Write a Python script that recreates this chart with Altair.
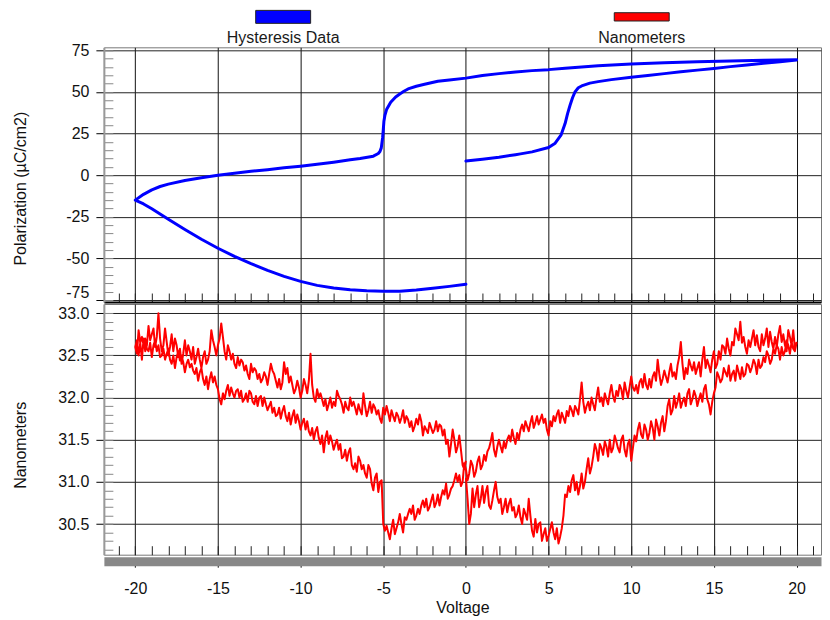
import altair as alt
import numpy as np
import pandas as pd

FONT = "Liberation Sans"

# ---------------- Polarization (Hysteresis Data) ----------------
# branch A: 0 -> +20 V
pa_v = [0, 1, 2, 3, 3.3, 4, 5, 5.4, 5.75, 6.0, 6.15, 6.3, 6.45, 6.6, 6.8, 7.0, 7.5,
        8.0, 8.8, 10, 11, 12, 13, 14, 15, 16, 17, 18, 19, 20]
pa_p = [8.5, 9.6, 10.8, 12.3, 12.8, 14.0, 16.6, 19.2, 24.0, 31.0, 37.0, 42.0, 46.5, 50.0,
        52.5, 53.6, 55.3, 56.2, 57.4, 58.8, 59.9, 61.0, 62.1, 63.1, 64.1, 65.2, 66.2, 67.2, 68.2, 69.2]
# branch B: +20 -> -20 V
pb_v = [20, 18, 16, 14, 12, 10, 8, 6, 5, 4, 3, 2, 1, 0, -1, -1.7, -2.5, -3.0, -3.5, -3.75,
        -4.0, -4.25, -4.55, -4.8, -4.9, -4.96, -5.0, -5.04, -5.12, -5.2, -5.3, -5.6, -6.4, -7,
        -8, -9, -10, -11, -12, -13, -14, -15, -16, -17, -18, -18.5, -19, -19.5, -20]
pb_p = [69.3, 69.0, 68.6, 68.1, 67.5, 66.8, 65.8, 64.3, 63.4, 62.8, 62.0, 61.0, 59.9, 58.3,
        57.2, 56.4, 54.6, 53.4, 51.8, 50.4, 48.8, 47.0, 43.8, 39.4, 36.0, 32.4, 27.0, 22.4,
        16.4, 14.2, 13.0, 11.4, 10.0, 9.2, 7.8, 6.5, 5.4, 4.4, 3.3, 2.3, 1.2, 0.0, -1.5, -3.2,
        -5.4, -6.8, -8.8, -11.5, -15.0]
# branch C: -20 -> 0 V
pc_v = [-20, -19.5, -19, -18, -17, -16, -15, -14, -13, -12, -11, -10, -9, -8, -7, -6, -5,
        -4, -3, -2, -1, 0]
pc_p = [-15.0, -17.3, -20.2, -26.5, -32.6, -38.5, -43.9, -48.8, -53.2, -57.2, -60.8, -63.8,
        -66.2, -67.8, -68.9, -69.5, -69.8, -69.7, -69.0, -68.0, -66.8, -65.5]

# ---------------- Nanometers ----------------
# readings at even 0.2 V steps, plus the readings in between (odd 0.1 V steps)
# branch A: 0 -> +20 V
na = [31.05, 30.50, 30.92, 30.85, 30.70, 30.95, 30.88, 30.72, 30.78, 31.00,
      30.75, 30.62, 30.80, 30.74, 30.66, 30.58, 30.72, 30.50, 30.62, 30.80,
      30.42, 30.56, 30.50, 30.30, 30.45, 30.36, 30.52, 30.32, 30.27, 30.45,
      30.85, 30.95, 31.02, 30.90, 30.85, 31.10, 31.00, 31.28, 31.18, 31.45,
      31.25, 31.40, 31.48, 31.30, 31.35, 31.55, 31.40, 31.50, 31.38, 31.45,
      31.25, 31.55, 31.62, 31.56, 31.68, 31.50, 31.72, 31.50, 31.66, 31.70,
      31.60, 31.90, 31.80, 32.02, 31.95, 31.88, 32.00, 32.05, 31.92, 32.08,
      31.90, 32.05, 32.10, 31.98, 31.80, 32.05, 32.30, 32.18, 32.35, 32.25,
      32.20, 32.32, 32.38, 32.22, 32.25, 32.40, 32.30, 32.45, 32.28, 32.35,
      32.48, 32.55, 32.40, 32.58, 32.62, 32.45, 32.50, 32.68, 32.52, 32.58,
      32.65]
na_mid = [30.80, 30.62, 30.70, 30.95, 30.80, 30.75, 30.95, 30.68, 30.90, 30.82,
          30.80, 30.70, 30.64, 30.80, 30.70, 30.62, 30.58, 30.68, 30.55, 30.60,
          30.35, 30.40, 30.52, 30.38, 30.30, 30.44, 30.40, 30.45, 30.35, 30.60,
          30.82, 30.88, 31.08, 31.00, 30.95, 30.92, 31.15, 31.10, 31.30, 31.38,
          31.45, 31.32, 31.42, 31.50, 31.40, 31.48, 31.35, 31.55, 31.30, 31.50,
          31.40, 31.48, 31.70, 31.52, 31.62, 31.58, 31.64, 31.74, 31.55, 31.78,
          31.72, 31.98, 31.85, 31.88, 32.05, 31.95, 31.90, 32.10, 31.98, 32.02,
          31.98, 31.95, 32.15, 31.92, 31.95, 32.12, 32.25, 32.22, 32.30, 32.38,
          32.28, 32.20, 32.30, 32.36, 32.28, 32.38, 32.36, 32.40, 32.45, 32.38,
          32.42, 32.50, 32.45, 32.52, 32.58, 32.60, 32.55, 32.62, 32.66, 32.55]
# branch B: +20 -> -20 V
nb = [32.65, 32.80, 32.72, 32.55, 32.75, 32.85, 32.60, 32.58, 32.78, 32.82,
      32.62, 32.55, 32.74, 32.80, 32.60, 32.52, 32.72, 32.90, 32.75, 32.62,
      32.50, 32.70, 32.60, 32.45, 32.40, 32.55, 32.30, 32.45, 32.60, 32.25,
      32.35, 32.42, 32.38, 32.28, 32.22, 32.66, 32.38, 32.30, 32.40, 32.18,
      32.32, 32.15, 32.45, 32.30, 32.12, 32.10, 32.28, 32.22, 32.05, 32.08,
      32.25, 32.00, 32.18, 32.10, 32.02, 31.95, 32.15, 31.92, 32.05, 32.00,
      32.12, 31.85, 32.00, 31.95, 31.82, 32.18, 31.80, 31.90, 31.85, 31.78,
      31.70, 31.82, 31.85, 31.72, 31.66, 31.55, 31.75, 31.80, 31.68, 31.70,
      31.78, 31.60, 31.72, 31.68, 31.50, 31.45, 31.62, 31.55, 31.40, 31.35,
      31.50, 31.30, 31.58, 31.40, 31.25, 31.20, 31.30, 31.12, 31.20, 31.10,
      31.15, 31.00, 31.08, 31.10, 30.95, 30.85, 30.98, 30.90, 30.72, 30.75,
      30.85, 30.70, 30.80, 30.78, 30.62, 30.60, 30.72, 30.68, 30.55, 30.40,
      30.62, 30.45, 30.55, 30.32, 30.48, 30.50, 31.00, 31.10, 30.90, 31.15,
      31.05, 31.20, 31.25, 31.12, 31.15, 31.40, 31.25, 31.30, 31.45, 31.50,
      31.38, 31.55, 31.60, 31.35, 31.45, 31.65, 31.50, 31.55, 31.72, 31.75,
      31.62, 31.80, 31.85, 31.68, 31.72, 31.90, 31.75, 31.80, 31.88, 31.95,
      31.85, 32.00, 32.02, 31.90, 31.92, 32.05, 31.95, 31.98, 32.08, 32.10,
      32.00, 32.12, 32.15, 31.98, 31.92, 32.10, 32.25, 32.30, 32.10, 32.15,
      32.35, 32.20, 32.28, 32.40, 32.45, 32.30, 32.50, 32.55, 32.35, 32.40,
      32.58, 32.45, 32.50, 32.62, 32.68, 32.48, 32.55, 32.70, 32.72, 32.50,
      32.60]
nb_mid = [32.58, 32.62, 32.80, 32.62, 32.66, 32.75, 32.72, 32.66, 32.60, 32.70,
          32.75, 32.60, 32.62, 32.70, 32.68, 32.60, 32.65, 32.68, 32.82, 32.66,
          32.58, 32.52, 32.62, 32.55, 32.35, 32.45, 32.38, 32.35, 32.45, 32.42,
          32.28, 32.32, 32.45, 32.35, 32.40, 32.48, 32.22, 32.25, 32.30, 32.25,
          32.22, 32.28, 32.20, 32.25, 32.22, 32.15, 32.12, 32.18, 32.15, 32.12,
          32.12, 32.08, 31.98, 32.15, 32.08, 32.02, 32.05, 31.98, 31.90, 31.95,
          32.00, 31.92, 31.85, 31.90, 31.95, 31.98, 31.86, 31.78, 31.90, 31.84,
          31.76, 31.70, 31.80, 31.78, 31.72, 31.62, 31.70, 31.74, 31.78, 31.64,
          31.70, 31.66, 31.60, 31.62, 31.58, 31.52, 31.48, 31.50, 31.48, 31.42,
          31.42, 31.38, 31.48, 31.36, 31.32, 31.15, 31.24, 31.06, 31.25, 31.02,
          31.22, 30.95, 31.00, 31.02, 30.92, 30.80, 30.85, 30.82, 30.85, 30.70,
          30.78, 30.66, 30.70, 30.72, 30.68, 30.55, 30.62, 30.62, 30.58, 30.50,
          30.52, 30.38, 30.45, 30.40, 30.42, 31.02, 30.88, 31.05, 30.98, 31.20,
          31.10, 31.15, 31.30, 31.22, 31.20, 31.35, 31.38, 31.28, 31.38, 31.45,
          31.48, 31.45, 31.52, 31.55, 31.52, 31.60, 31.64, 31.60, 31.62, 31.70,
          31.72, 31.70, 31.78, 31.82, 31.78, 31.84, 31.88, 31.78, 31.82, 31.90,
          31.92, 31.90, 32.00, 32.02, 31.95, 32.08, 32.05, 31.95, 32.00, 32.08,
          32.05, 32.02, 32.08, 32.05, 31.98, 32.15, 32.18, 32.22, 32.25, 32.22,
          32.30, 32.35, 32.32, 32.36, 32.40, 32.42, 32.44, 32.48, 32.50, 32.45,
          32.52, 32.58, 32.48, 32.55, 32.62, 32.65, 32.58, 32.62, 32.65, 32.68]
# branch C: -20 -> 0 V
nc = [32.60, 32.80, 32.45, 32.55, 32.85, 32.75, 32.60, 33.00, 32.55, 32.82,
      32.50, 32.75, 32.70, 32.48, 32.40, 32.68, 32.62, 32.45, 32.40, 32.58,
      32.35, 32.55, 32.45, 32.80, 32.60, 32.62, 32.88, 32.55, 32.62, 32.45,
      32.40, 32.48, 32.45, 32.32, 32.28, 32.40, 32.35, 32.22, 32.18, 32.30,
      32.15, 32.40, 32.28, 32.12, 32.10, 32.42, 32.35, 32.25, 32.05, 32.20,
      32.00, 32.22, 32.05, 32.52, 32.00, 32.10, 32.05, 31.90, 31.85, 32.00,
      31.95, 32.08, 31.98, 31.82, 31.88, 32.00, 31.95, 31.80, 31.85, 32.05,
      31.78, 31.95, 31.92, 31.80, 31.75, 31.88, 31.90, 31.72, 31.78, 31.82,
      31.70, 31.85, 31.78, 31.65, 31.60, 31.75, 31.80, 31.55, 31.62, 31.70,
      31.58, 31.72, 31.68, 31.55, 31.45, 31.30, 31.62, 31.35, 31.55, 31.20,
      31.25]
nc_mid = [32.52, 32.65, 32.70, 32.62, 32.68, 32.82, 32.72, 32.70, 32.62, 32.66,
          32.60, 32.55, 32.62, 32.58, 32.52, 32.50, 32.55, 32.60, 32.48, 32.45,
          32.48, 32.40, 32.55, 32.68, 32.50, 32.70, 32.72, 32.45, 32.55, 32.52,
          32.35, 32.38, 32.42, 32.38, 32.22, 32.30, 32.32, 32.28, 32.22, 32.25,
          32.28, 32.32, 32.20, 32.22, 32.18, 32.28, 32.18, 32.15, 32.10, 32.12,
          32.08, 32.15, 32.20, 32.15, 31.95, 32.00, 31.98, 31.98, 31.92, 31.88,
          31.90, 32.02, 31.92, 31.95, 31.85, 31.90, 31.88, 31.92, 31.80, 31.90,
          31.85, 31.82, 31.88, 31.85, 31.70, 31.80, 31.82, 31.85, 31.72, 31.78,
          31.76, 31.70, 31.74, 31.72, 31.66, 31.68, 31.72, 31.66, 31.58, 31.64,
          31.62, 31.60, 31.66, 31.62, 31.50, 31.45, 31.50, 31.42, 31.38, 31.15]

series = ["Hysteresis Data", "Nanometers"]
series_colors = ["#0000FF", "#FF0000"]
x_major = [-20, -15, -10, -5, 0, 5, 10, 15, 20]
x_minor = list(range(-21, 22))
pol_major = [-75, -50, -25, 0, 25, 50, 75]
pol_minor = list(range(-75, 80, 5))
nm_major = [30.5, 31.0, 31.5, 32.0, 32.5, 33.0]
nm_minor = [round(30.2 + 0.1 * i, 1) for i in range(29)]


def interleave(base, mid):
    out = []
    for i, b in enumerate(base):
        out.append(b)
        if i < len(mid):
            out.append(mid[i])
    return out


# ---------------- tables ----------------
pol = pd.DataFrame({"V": pa_v + pb_v + pc_v, "P": pa_p + pb_p + pc_p})
pol["o"] = np.arange(len(pol))

ya = interleave(na, na_mid)
yb = interleave(nb, nb_mid)
yc = interleave(nc, nc_mid)
nm_v = np.concatenate([np.linspace(0, 20, len(ya)),
                       np.linspace(20, -20, len(yb)),
                       np.linspace(-20, 0, len(yc))])
nm = pd.DataFrame({"V": np.round(nm_v, 3), "N": ya + yb + yc})
nm["o"] = np.arange(len(nm))

W = 718
xscale = alt.Scale(domain=[-21.90, 21.48], nice=False, zero=False)
ysc_top = alt.Scale(domain=[-76.2, 76.8], nice=False, zero=False)
ysc_bot = alt.Scale(domain=[30.136, 33.11], nice=False, zero=False)

# ---------------- legend panel ----------------
leg_df = pd.DataFrame({"s": series})
leg_x = alt.X("s:N", scale=alt.Scale(domain=series, type="point", padding=0.5), axis=None)
path_blue = "M-1,-0.236L1,-0.236L1,0.236L-1,0.236Z"
path_red = "M-1,-0.151L1,-0.151L1,0.151L-1,0.151Z"
leg_sym = alt.Chart(leg_df).mark_point(filled=True, size=3025, stroke="#222222",
                                       strokeWidth=1, opacity=1).encode(
    x=leg_x,
    y=alt.value(8.5),
    shape=alt.Shape("s:N", scale=alt.Scale(domain=series, range=[path_blue, path_red]), legend=None),
    fill=alt.Fill("s:N", scale=alt.Scale(domain=series, range=series_colors), legend=None),
)
leg_txt = alt.Chart(leg_df).mark_text(font=FONT, fontSize=16, color="#1a1a1a",
                                      baseline="middle").encode(
    x=leg_x, y=alt.value(30), text="s:N")
legend = alt.layer(leg_sym, leg_txt).properties(
    width=W, height=37, view=alt.ViewBackground(strokeOpacity=0))

# ---------------- top panel ----------------
top_line = alt.Chart(pol).mark_line(color="#0000FF", strokeWidth=3, strokeJoin="round",
                                    strokeCap="round").encode(
    x=alt.X("V:Q", scale=xscale, axis=alt.Axis(
        orient="bottom", values=x_major, grid=True, gridColor="#111111", labels=False,
        ticks=False, domain=True, domainColor="#000000", domainWidth=2, title=None)),
    y=alt.Y("P:Q", scale=ysc_top, axis=alt.Axis(
        orient="left", values=pol_major, grid=True, gridColor="#222222",
        labelExpr="'' + datum.value", tickSize=8, tickColor="#000000", labelPadding=7,
        labelBaseline=alt.condition("datum.value == -75", alt.value("bottom"), alt.value("middle")),
        domainColor="#999999", domainWidth=2, title="Polarization (µC/cm2)",
        titleX=-83.5, titleY=141, titleAngle=270, titleBaseline="middle")),
    order="o:Q",
)
top_minor = alt.Chart(pol).mark_line(strokeOpacity=0).encode(
    x=alt.X("V:Q", scale=xscale, axis=alt.Axis(
        values=x_minor, orient="bottom", offset=-9, tickSize=9, tickColor="#222222",
        labels=False, domain=False, grid=False, title=None)),
    y=alt.Y("P:Q", scale=ysc_top, axis=alt.Axis(
        values=pol_minor, orient="left", offset=-9, tickSize=9, tickColor="#888888",
        labels=False, domain=False, grid=False, title=None)),
)
top = alt.layer(top_minor, top_line).resolve_axis(x="independent", y="independent").properties(
    width=W, height=255)

# ---------------- bottom panel ----------------
bot_line = alt.Chart(nm).mark_line(color="#FF0000", strokeWidth=2, strokeJoin="round").encode(
    x=alt.X("V:Q", scale=xscale, axis=alt.Axis(
        orient="bottom", values=x_major, grid=True, gridColor="#111111",
        labelExpr="'' + datum.value", tickSize=6, tickColor="#000000", offset=6.5,
        domainColor="#888888", domainWidth=9, labelPadding=13, title="Voltage",
        titlePadding=3)),
    y=alt.Y("N:Q", scale=ysc_bot, axis=alt.Axis(
        orient="left", values=nm_major, grid=True, gridColor="#222222",
        labelExpr="format(datum.value, '.1f')", tickSize=8, tickColor="#000000",
        labelPadding=7, domainColor="#999999", domainWidth=2, title="Nanometers",
        titleX=-83.5, titleY=141, titleAngle=270, titleBaseline="middle")),
    order="o:Q",
)
bot_minor = alt.Chart(nm).mark_line(strokeOpacity=0).encode(
    x=alt.X("V:Q", scale=xscale, axis=alt.Axis(
        values=x_minor, orient="bottom", offset=-9, tickSize=9, tickColor="#222222",
        labels=False, domain=False, grid=False, title=None)),
    y=alt.Y("N:Q", scale=ysc_bot, axis=alt.Axis(
        values=nm_minor, orient="left", offset=-9, tickSize=9, tickColor="#888888",
        labels=False, domain=False, grid=False, title=None)),
)
bottom = alt.layer(bot_minor, bot_line).resolve_axis(x="independent", y="independent").properties(
    width=W, height=251)

chart = alt.vconcat(legend, top, bottom, spacing=2, bounds="flush").properties(
    padding={"left": 4, "top": 0, "right": 0, "bottom": 0}
).configure_view(stroke="#777777", strokeWidth=1).configure_axis(
    labelFont=FONT, titleFont=FONT, labelFontSize=16, titleFontSize=16,
    labelColor="#111111", titleColor="#111111", titleFontWeight="normal"
)

chart.save("out.html", embed_options={"renderer": "svg", "actions": False})
